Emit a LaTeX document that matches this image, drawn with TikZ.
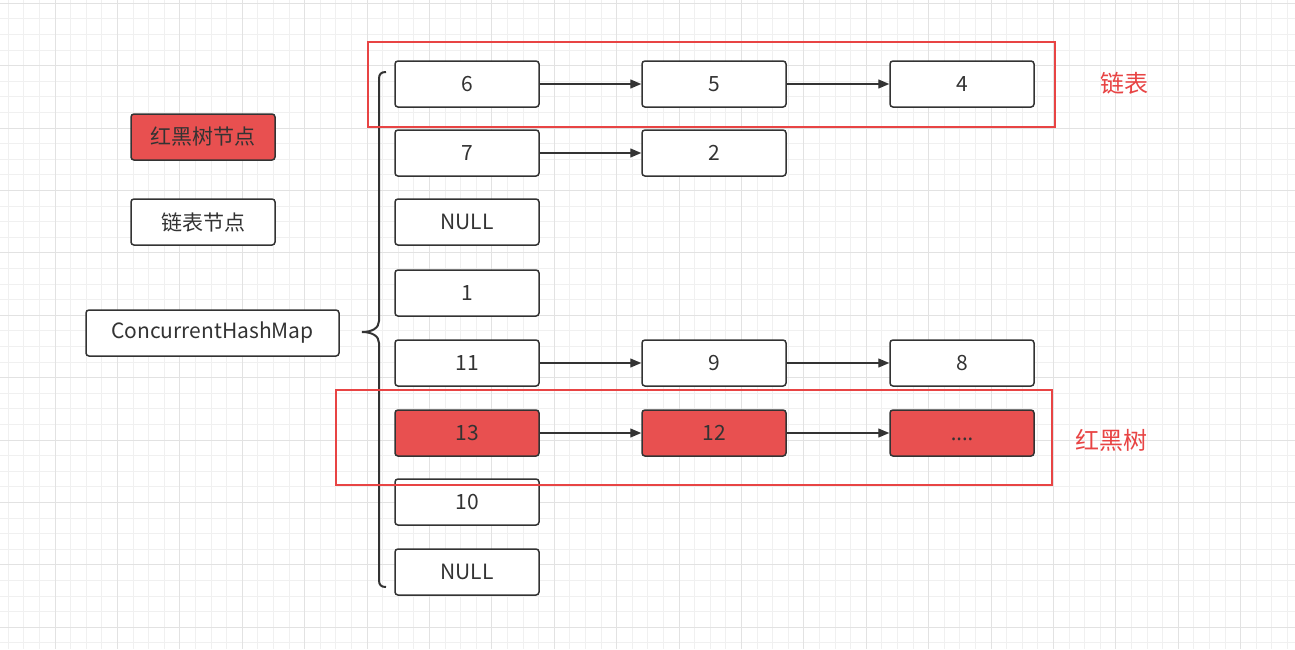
\documentclass[tikz,border=0pt]{standalone}
\usepackage{fontspec}
\setmainfont{Noto Sans CJK SC}
\newfontfamily\latinfont{Noto Sans}
\usetikzlibrary{arrows.meta}
\definecolor{ink}{HTML}{333333}
\definecolor{redfill}{HTML}{E85050}
\definecolor{redline}{HTML}{E84444}
\definecolor{gridminor}{HTML}{F0F0F0}
\definecolor{gridmajor}{HTML}{E2E2E2}
\tikzset{
  cell/.style={draw=ink, line width=1.5pt, rounded corners=3pt, fill=white,
    minimum width=144pt, minimum height=46pt, inner sep=0pt, text=ink,
    font=\fontsize{21}{24}\selectfont},
  redcell/.style={cell, fill=redfill},
  link/.style={draw=ink, line width=1.3pt, -{Triangle[length=11pt,width=9pt]}},
  frame/.style={draw=redline, line width=2.5pt},
  redlabel/.style={text=redline, font=\fontsize{24}{28}\selectfont, inner sep=0pt},
  bracestyle/.style={draw=ink, line width=2pt}
}
\begin{document}
\begin{tikzpicture}[x=1pt, y=-1pt]
\useasboundingbox (0,0) rectangle (1295,649);
\fill[white] (0,0) rectangle (1295,649);
% grid
\foreach \i in {-3,...,83} {
  \pgfmathsetmacro{\gx}{55+15.6*\i}
  \draw[gridminor, line width=1pt] (\gx,0) -- (\gx,649);
}
\foreach \i in {0,...,41} {
  \pgfmathsetmacro{\gy}{3.3+15.6*\i}
  \draw[gridminor, line width=1pt] (0,\gy) -- (1295,\gy);
}
\foreach \i in {0,...,20} {
  \pgfmathsetmacro{\gx}{55+62.4*\i-62.4}
  \draw[gridmajor, line width=1pt] (\gx,0) -- (\gx,649);
}
\foreach \i in {0,...,10} {
  \pgfmathsetmacro{\gy}{3.3+62.4*\i}
  \draw[gridmajor, line width=1pt] (0,\gy) -- (1295,\gy);
}
% legend
\node[redcell] (legRed) at (203,137) {红黑树节点};
\node[cell] (legList) at (203,222) {链表节点};
\node[cell, minimum width=253pt] (chm) at (212.5,333) {ConcurrentHashMap};
% brace
\draw[bracestyle] (386,72) .. controls (381,72) and (379,74) .. (379,79) -- (379,321)
  .. controls (379,328) and (372,332) .. (362,332)
  .. controls (372,332) and (379,336) .. (379,343) -- (379,580)
  .. controls (379,585) and (381,587) .. (386,587);
% column 1
\node[cell] (a1) at (467,84) {6};
\node[cell] (a2) at (467,153) {7};
\node[cell] (a3) at (467,222) {NULL};
\node[cell] (a4) at (467,293) {1};
\node[cell] (a5) at (467,363) {11};
\node[redcell] (a6) at (467,433) {13};
\node[cell] (a7) at (467,502) {10};
\node[cell] (a8) at (467,572) {NULL};
% column 2
\node[cell] (b1) at (714,84) {5};
\node[cell] (b2) at (714,153) {2};
\node[cell] (b5) at (714,363) {9};
\node[redcell] (b6) at (714,433) {12};
% column 3
\node[cell] (c1) at (962,84) {4};
\node[cell] (c5) at (962,363) {8};
\node[redcell] (c6) at (962,433) {\latinfont\vphantom{0}....};
% links
\draw[link] (a1) -- (b1);
\draw[link] (b1) -- (c1);
\draw[link] (a2) -- (b2);
\draw[link] (a5) -- (b5);
\draw[link] (b5) -- (c5);
\draw[link] (a6) -- (b6);
\draw[link] (b6) -- (c6);
% frames
\node[frame, minimum width=687pt, minimum height=85pt, inner sep=0pt] (listFrame) at (711.5,84.5) {};
\node[frame, minimum width=716pt, minimum height=95pt, inner sep=0pt] (treeFrame) at (694,437.5) {};
\node[redlabel] (listLabel) at (1124,83) {链表};
\node[redlabel] (treeLabel) at (1111,440) {红黑树};
\end{tikzpicture}
\end{document}
